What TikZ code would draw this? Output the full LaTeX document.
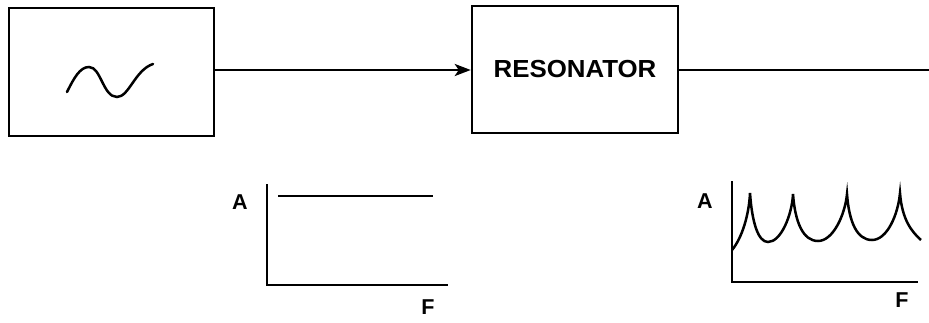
\documentclass[tikz,border=0pt]{standalone}
\usepackage{fontspec}
\setmainfont{Liberation Sans}
\usetikzlibrary{arrows.meta}
\begin{document}
\begin{tikzpicture}[x=1pt,y=-1pt,
  line width=2.5pt,
  blk/.style={draw,rectangle,inner sep=0pt},
  lbl/.style={inner sep=0pt,font=\bfseries\fontsize{21.5}{22}\selectfont},
  ax/.style={line width=2.7pt,line cap=rect}]
\useasboundingbox (0,0) rectangle (929,323);
% blocks
\node[blk,minimum width=205pt,minimum height=128pt] (gen) at (111.5,72) {};
\node[blk,minimum width=206pt,minimum height=127pt] (res) at (575,69.5)
  {\bfseries\fontsize{23.5}{24}\selectfont\scalebox{1.1}[1.05]{RESONATOR}};
\coordinate (out) at (929,70);
% sine symbol
\draw[line cap=round] (67,92) .. controls (74,78) and (80,67) .. (89,67)
  .. controls (101,67) and (103,97) .. (117,97)
  .. controls (129,97) and (135,70) .. (153,64);
% connectors
\draw[-{Stealth[length=16pt,width=12pt,inset=4pt]}] (gen.east |- 0,70) -- (res.west |- 0,70);
\draw (res.east |- out) -- (out);
% graph 1
\coordinate (o1) at (267,285);
\coordinate (y1) at (267,185);
\coordinate (x1) at (447,285);
\draw[ax] (y1) -- (o1) -- (x1);
\coordinate (f1a) at (278,196);
\coordinate (f1b) at (433,196);
\draw (f1a) -- (f1b);
\node[lbl] (a1) at (240,202) {A};
\node[lbl] (fl1) at (428,307) {F};
% graph 2
\coordinate (o2) at (732,282);
\coordinate (y2) at (732,182);
\coordinate (x2) at (917,282);
\draw[ax] (y2) -- (o2) -- (x2);
\draw (732,250) .. controls (742,238) and (749,215) .. (750,193)
  .. controls (752,222) and (758,242) .. (768,242)
  .. controls (781,242) and (792,215) .. (793,194)
  .. controls (795,222) and (803,241) .. (818,241)
  .. controls (833,241) and (845,215) .. (847,194)
  .. controls (849,222) and (857,240) .. (872,240)
  .. controls (887,240) and (898,215) .. (900,193)
  .. controls (902,220) and (912,232) .. (921,240);
\node[lbl] (a2) at (705,201) {A};
\node[lbl] (fl2) at (902,300) {F};
\end{tikzpicture}
\end{document}
